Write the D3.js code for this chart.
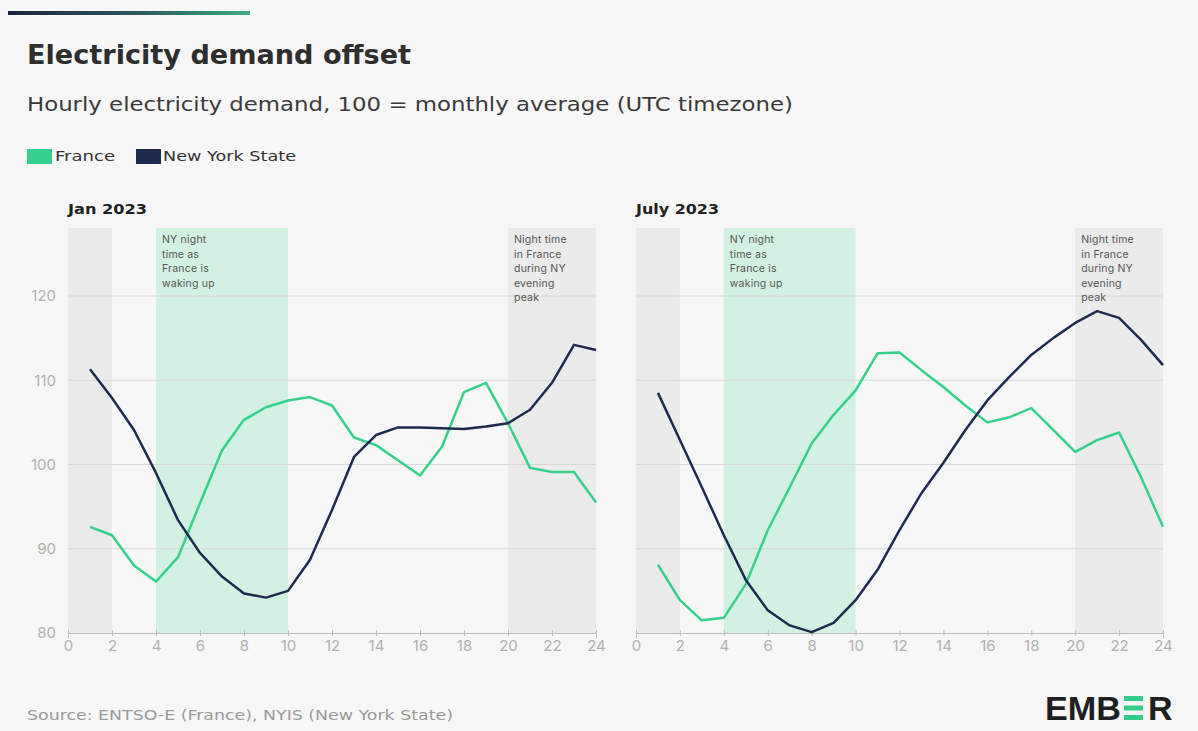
<!DOCTYPE html>
<html>
<head>
<meta charset="utf-8">
<script src="https://cdn.jsdelivr.net/npm/d3@7"></script>
<style>
  html, body { margin: 0; padding: 0; background: #f7f7f7; }
  svg { display: block; }
</style>
</head>
<body>
<svg id="chart" width="1198" height="731"></svg>
<script>
// Hours of the day (UTC), values indexed 100 = monthly average
const hours = d3.range(1, 25);

const janFrance = [92.6, 91.6, 88.0, 86.1, 89.0, 95.4, 101.7, 105.3, 106.8, 107.6, 108.0, 107.0,
                   103.2, 102.3, 100.5, 98.7, 102.1, 108.6, 109.7, 104.9, 99.6, 99.1, 99.1, 95.5];
const janNewYork = [111.3, 107.9, 104.1, 99.0, 93.4, 89.5, 86.7, 84.7, 84.2, 85.0, 88.7, 94.6,
                    100.9, 103.5, 104.4, 104.4, 104.3, 104.2, 104.5, 104.9, 106.5, 109.7, 114.2, 113.6];
const julFrance = [88.1, 83.9, 81.5, 81.8, 85.8, 92.2, 97.3, 102.5, 105.9, 108.8, 113.2, 113.3,
                   111.2, 109.2, 107.0, 105.0, 105.6, 106.7, 104.1, 101.5, 102.9, 103.8, 98.5, 92.6];
const julNewYork = [108.5, 102.9, 97.3, 91.6, 86.3, 82.7, 80.9, 80.1, 81.2, 83.9, 87.5, 92.2,
                    96.6, 100.2, 104.1, 107.6, 110.4, 113.0, 115.0, 116.8, 118.2, 117.4, 114.8, 111.8];

const xTicks = d3.range(0, 25, 2);
const yTicks = [80, 90, 100, 110, 120];

const panelTitles = ["Jan 2023", "July 2023"];
const seriesNames = ["France", "New York State"];
const seriesColors = ["#35d08c", "#1e2b4f"];

// Shaded periods: [start hour, end hour, kind]
const bands = [[0, 2, "grey"], [4, 10, "green"], [20, 24, "grey"]];
const noteMorning = ["NY night", "time as", "France is", "waking up"];
const noteEvening = ["Night time", "in France", "during NY", "evening", "peak"];

const svg = d3.select("#chart");
const font = "Inter, 'Noto Sans', sans-serif";
const wide = "'DejaVu Sans', Verdana, sans-serif";

svg.append("rect").attr("width", 1198).attr("height", 731).attr("fill", "#f7f7f7");

// Brand bar at the top
const grad = svg.append("defs").append("linearGradient").attr("id", "topbar");
grad.append("stop").attr("offset", "0%").attr("stop-color", "#1d2440");
grad.append("stop").attr("offset", "55%").attr("stop-color", "#2a5a5e");
grad.append("stop").attr("offset", "100%").attr("stop-color", "#3fae80");
svg.append("rect").attr("x", 8).attr("y", 11).attr("width", 242).attr("height", 4).attr("fill", "url(#topbar)");

// Text helper; an optional width fits the string to a set span
function label(parent, x, yPos, str, size, width, opts = {}) {
  const t = parent.append("text").attr("x", x).attr("y", yPos)
    .attr("font-family", opts.family || font).attr("font-size", size)
    .attr("font-weight", opts.weight || 400).attr("fill", opts.fill || "#333")
    .text(str);
  if (width) t.attr("textLength", width).attr("lengthAdjust", "spacingAndGlyphs");
  return t;
}

label(svg, 27, 64, "Electricity demand offset", 26, 384, { family: wide, weight: 700, fill: "#2e2e2e" });
label(svg, 27, 111, "Hourly electricity demand, 100 = monthly average (UTC timezone)", 19.5, 766, { family: wide, fill: "#3a3a3a" });

// Legend
const legendText = [[55, 60], [163, 133]];
const legendBox = [27, 136];
seriesNames.forEach((name, i) => {
  svg.append("rect").attr("x", legendBox[i]).attr("y", 149).attr("width", 25).attr("height", 15).attr("fill", seriesColors[i]);
  label(svg, legendText[i][0], 161, name, 14, legendText[i][1], { family: wide, fill: "#333" });
});

const y = d3.scaleLinear().domain([80, 120]).range([633, 296]);
const yTop = 228;

const panels = [
  { x0: 68, x1: 596, title: panelTitles[0], titleW: 79, data: [janFrance, janNewYork], yLabels: true },
  { x0: 636, x1: 1163, title: panelTitles[1], titleW: 83, data: [julFrance, julNewYork], yLabels: false }
];

panels.forEach(p => {
  const x = d3.scaleLinear().domain([0, 24]).range([p.x0, p.x1]);
  const g = svg.append("g");

  label(g, p.x0, 214, p.title, 14.5, p.titleW, { family: wide, weight: 700, fill: "#222" });

  bands.forEach(([a, b, kind]) => {
    g.append("rect").attr("x", x(a)).attr("y", yTop)
      .attr("width", x(b) - x(a)).attr("height", y(80) - yTop)
      .attr("fill", kind === "green" ? "#d3f1e2" : "#ebebeb");
  });

  // Horizontal gridlines
  g.selectAll(".grid").data(yTicks.filter(v => v > 80)).join("line")
    .attr("x1", p.x0).attr("x2", p.x1)
    .attr("y1", d => y(d)).attr("y2", d => y(d))
    .attr("stroke", "#d8d8d8").attr("stroke-width", 1.2);

  // Notes inside the shaded periods
  const addNote = (lines, hx) => {
    const t = g.append("text").attr("font-family", font).attr("font-size", 10.5).attr("fill", "#555")
      .attr("letter-spacing", 0.2);
    lines.forEach((s, i) => t.append("tspan").attr("x", x(hx) + 6).attr("y", 243 + i * 14.5).text(s));
  };
  addNote(noteMorning, 4);
  addNote(noteEvening, 20);

  // X axis
  const xAxis = d3.axisBottom(x).tickValues(xTicks).tickSize(5).tickPadding(6);
  const ax = g.append("g").attr("transform", `translate(0,${y(80)})`).call(xAxis);
  ax.select(".domain").attr("stroke", "#bdbdbd");
  ax.selectAll(".tick line").attr("stroke", "#bdbdbd").attr("y1", -3).attr("y2", 3);
  ax.selectAll(".tick text").attr("font-family", font).attr("font-size", 15).attr("fill", "#b0b0b0")
    .attr("dy", "0.45em");

  if (p.yLabels) {
    const yAxis = d3.axisLeft(y).tickValues(yTicks).tickSize(0).tickPadding(12);
    const ay = g.append("g").attr("transform", `translate(${p.x0},0)`).call(yAxis);
    ay.select(".domain").remove();
    ay.selectAll(".tick text").attr("font-family", font).attr("font-size", 15).attr("fill", "#b0b0b0");
  }

  const line = d3.line().x((d, i) => x(hours[i])).y(d => y(d));
  p.data.forEach((series, i) => {
    g.append("path").datum(series).attr("d", line)
      .attr("fill", "none").attr("stroke", seriesColors[i]).attr("stroke-width", 2.5)
      .attr("stroke-linejoin", "round");
  });
});

// Footer
label(svg, 27, 720, "Source: ENTSO-E (France), NYIS (New York State)", 14.5, 426, { family: wide, fill: "#9a9a9a" });

// Ember wordmark
const logoFont = "'Liberation Sans', Arial, sans-serif";
label(svg, 1045, 720, "EMB", 34, 76, { family: logoFont, weight: 700, fill: "#1f1f1f" });
[0, 1, 2].forEach(i => {
  svg.append("rect").attr("x", 1124).attr("y", 696 + i * 9.5).attr("width", 19).attr("height", 5)
    .attr("fill", "#33cc8a");
});
label(svg, 1148, 720, "R", 34, null, { family: logoFont, weight: 700, fill: "#1f1f1f" });
</script>
</body>
</html>
